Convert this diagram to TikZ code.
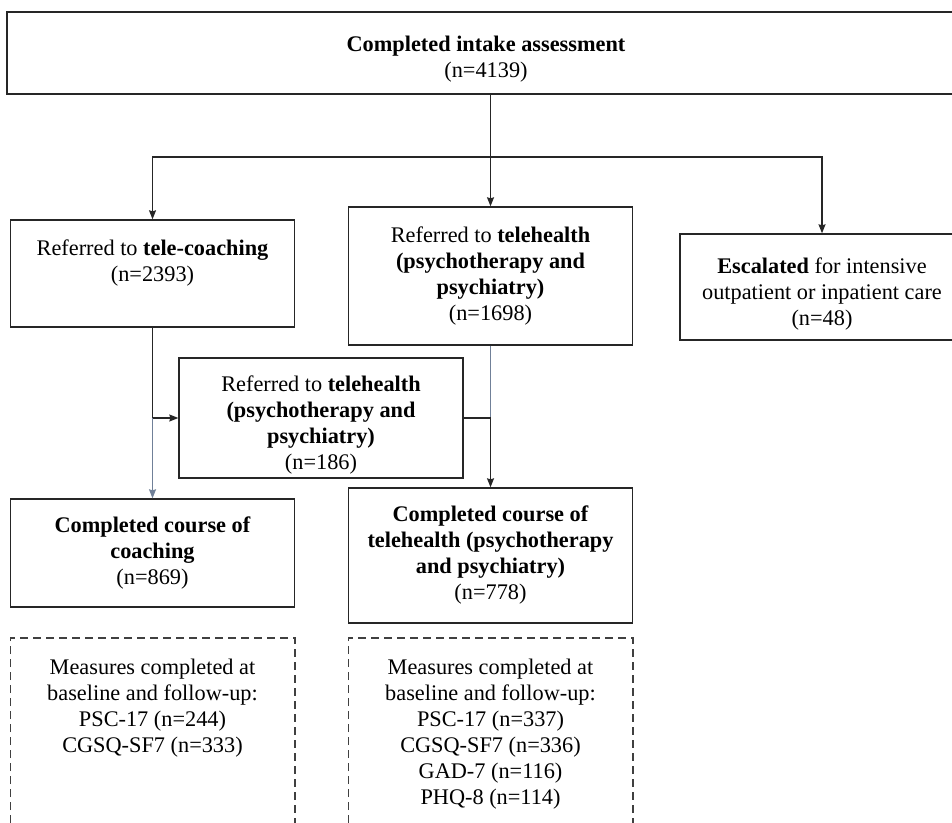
\documentclass[tikz,border=0pt]{standalone}
\usepackage{fontspec}
\setmainfont{Liberation Serif}
\usetikzlibrary{arrows.meta}

\definecolor{slateline}{RGB}{112,128,152}
% first-line strut, pushes a centred block down
\newcommand{\dropline}[1]{\rule{0pt}{#1}}

\begin{document}
\begin{tikzpicture}[x=0.5pt,y=-0.5pt]
\useasboundingbox (0,0) rectangle (952,823);
\begin{scope}[every node/.style={rectangle,draw=black!85,line width=0.7pt,align=center,
              minimum width=142pt,inner sep=0pt,font=\fontsize{11.15}{13}\selectfont}]
    \node[minimum width=479pt,minimum height=41pt] (intake) at (486,53)
        {\dropline{13.6pt}\textbf{Completed intake assessment}\\(n=4139)};
    \node[minimum height=53.5pt] (coach) at (152.5,273.5)
        {Referred to \textbf{tele-coaching}\\(n=2393)\\\mbox{}};
    \node[minimum height=69pt] (tele) at (490.5,276)
        {Referred to \textbf{telehealth}\\\textbf{(psychotherapy and}\\\textbf{psychiatry)}\\(n=1698)};
    \node[minimum height=53pt] (escal) at (822,287)
        {\dropline{14.8pt}\textbf{Escalated} for intensive\\outpatient or inpatient care\\(n=48)};
    \node[minimum height=60pt] (switch) at (321,418)
        {\dropline{14.8pt}Referred to \textbf{telehealth}\\\textbf{(psychotherapy and}\\\textbf{psychiatry)}\\(n=186)};
    \node[minimum height=54pt] (donecoach) at (152.5,553)
        {\textbf{Completed course of}\\\textbf{coaching}\\(n=869)};
    \node[minimum height=67.5pt] (donetele) at (490.5,555.5)
        {\textbf{Completed course of}\\\textbf{telehealth (psychotherapy}\\\textbf{and psychiatry)}\\(n=778)};
\end{scope}
\begin{scope}[every node/.style={rectangle,align=center,anchor=north,minimum width=142pt,
              inner xsep=0pt,inner ysep=10.5pt,font=\fontsize{11.15}{13}\selectfont}]
    \node (meascoach) at (152.5,638)
        {Measures completed at\\baseline and follow-up:\\PSC-17 (n=244)\\CGSQ-SF7 (n=333)};
    \node (meastele) at (490.5,638)
        {Measures completed at\\baseline and follow-up:\\PSC-17 (n=337)\\CGSQ-SF7 (n=336)\\GAD-7 (n=116)\\PHQ-8 (n=114)};
\end{scope}
\coordinate (bottom) at (0,823);
\coordinate (split) at (490.5,157);
\coordinate (joinL) at (coach.south |- switch.west);
\coordinate (joinR) at (tele.south |- switch.east);
\begin{scope}[dash pattern=on 4pt off 2.5pt,draw=black!75,line width=0.6pt]
    \draw (meascoach.north west |- bottom) -- (meascoach.north west)
          -- (meascoach.north east) -- (meascoach.north east |- bottom);
    \draw (meastele.north west |- bottom) -- (meastele.north west)
          -- (meastele.north east) -- (meastele.north east |- bottom);
\end{scope}
\begin{scope}[>={Stealth[length=4.5pt,width=3.5pt,inset=0.5pt]},line width=0.6pt,
              every edge/.style={draw=black!85,line width=0.6pt}]
    \path [->] (intake.south -| split) edge (tele.north);
    \draw [<->,black!85] (coach.north) |- (split) -| (escal.north);
    \path [-] (coach.south) edge (joinL);
    \path [->] (joinL) edge (switch.west);
    \path [->] (joinL) edge[draw=slateline] (donecoach.north);
    \path [-] (tele.south) edge[draw=slateline] (joinR);
    \path [-] (switch.east) edge (joinR);
    \path [->] (joinR) edge (donetele.north);
\end{scope}
\end{tikzpicture}
\end{document}
